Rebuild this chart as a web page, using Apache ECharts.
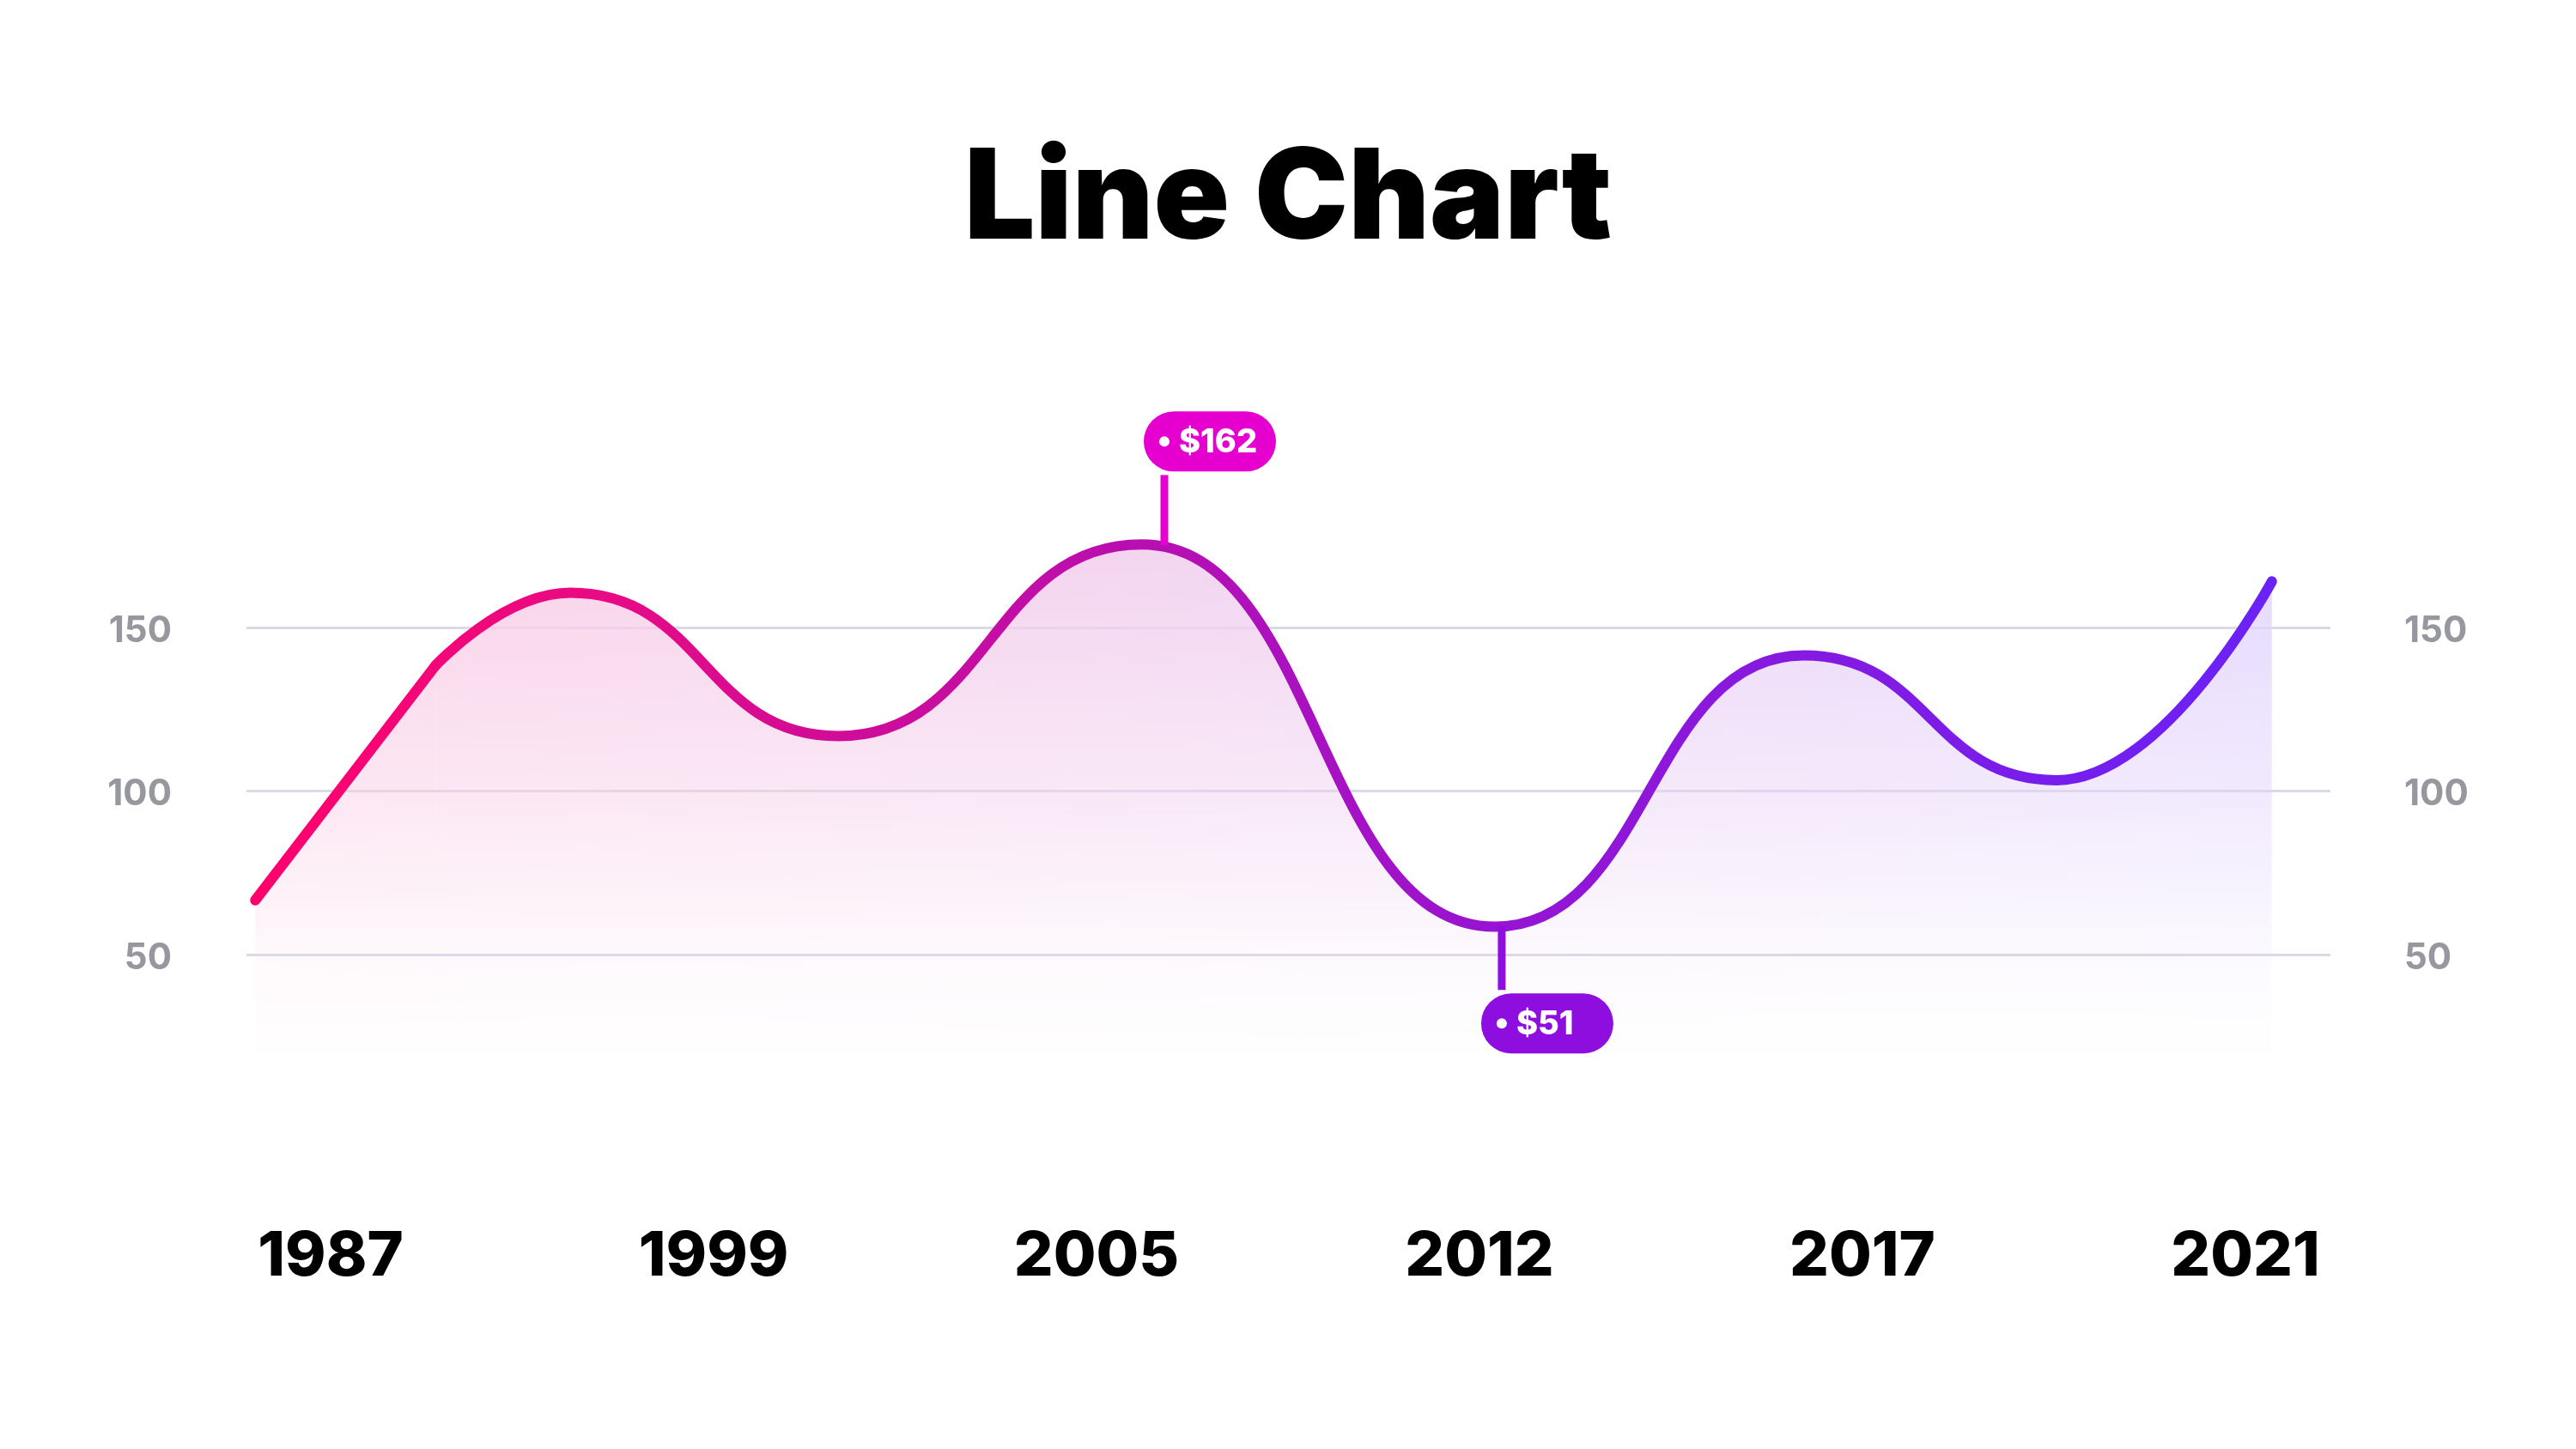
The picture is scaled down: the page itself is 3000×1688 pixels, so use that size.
<!DOCTYPE html>
<html>
<head>
<meta charset="utf-8">
<script src="https://cdn.jsdelivr.net/npm/echarts@6/dist/echarts.min.js"></script>
<style>
html,body{margin:0;padding:0;background:#fff;}
#chart{width:3000px;height:1688px;}
</style>
</head>
<body>
<div id="chart"></div>
<script>
// ---- data ----
const titleText = 'Line Chart';
const years = ['1987', '1999', '2005', '2012', '2017', '2021'];
const yearPos = [0, 1, 2, 3, 4, 5];
// straight opening run (start -> first bend)
const leadX = [-0.197, 0.274];
const leadY = [66.6, 138.4];
// smooth run: first bend, then peaks / troughs, then the end point
const curveX = [0.274, 0.626, 1.325, 2.118, 3.040, 3.846, 4.507, 5.069];
const curveY = [138.4, 160.6, 116.8, 175.4, 58.5, 141.5, 103.3, 164.1];
const yTicks = [50, 100, 150];
const calloutText = ['$162', '$51'];
const calloutX = [2.177, 3.058];
const calloutY = [175.1, 58.6];
const calloutDir = ['up', 'down'];

// ---- styling ----
const FONT = 'Inter, "Open Sans", sans-serif';
const calloutColors = ['#e500d0', '#8e0ee0'];

// area fill pattern: horizontal hue shift + vertical fade
const pat = document.createElement('canvas');
pat.width = 3000; pat.height = 1688;
const g = pat.getContext('2d');
const hg = g.createLinearGradient(290, 0, 2650, 0);
hg.addColorStop(0, 'rgb(251,205,228)');
hg.addColorStop(0.45, 'rgb(242,208,238)');
hg.addColorStop(1, 'rgb(226,212,253)');
g.fillStyle = hg; g.fillRect(0, 0, 3000, 1688);
g.globalCompositeOperation = 'destination-in';
const vg = g.createLinearGradient(0, 640, 0, 1250);
vg.addColorStop(0, 'rgba(0,0,0,0.9)');
vg.addColorStop(0.45, 'rgba(0,0,0,0.5)');
vg.addColorStop(0.8, 'rgba(0,0,0,0.1)');
vg.addColorStop(1, 'rgba(0,0,0,0)');
g.fillStyle = vg; g.fillRect(0, 0, 3000, 1688);

const lineGradient = () => new echarts.graphic.LinearGradient(296, 0, 2646, 0, [
  {offset: 0, color: '#ff006c'},
  {offset: 0.16, color: '#ea0a82'},
  {offset: 0.29, color: '#d00c98'},
  {offset: 0.44, color: '#b80fb0'},
  {offset: 0.62, color: '#9614d3'},
  {offset: 1, color: '#6a22f6'}
], true);

const chart = echarts.init(document.getElementById('chart'), null, {renderer: 'canvas'});

const leadData = leadX.map((x, i) => [x, leadY[i]]);
const lineData = curveX.map((x, i) => [x, curveY[i]]);
const calloutData = calloutX.map((x, i) => [x, calloutY[i], i]);

const yLabelStyle = {
  formatter: v => '{t|' + v + '}',
  rich: {
    t: {color: '#96979f', fontSize: 42, lineHeight: 42, fontWeight: 700, fontFamily: FONT,
        padding: [8, 0, 0, 0]}
  }
};

const lineCommon = {
  type: 'line',
  clip: false,
  showSymbol: false,
  symbol: 'none',
  z: 2,
  lineStyle: {width: 12, cap: 'round', join: 'round', color: lineGradient()},
  areaStyle: {origin: 20, color: {image: pat, repeat: 'no-repeat'}, opacity: 1}
};

chart.setOption({
  backgroundColor: '#ffffff',
  animation: false,
  title: {
    text: titleText,
    left: 'center',
    top: 156,
    textStyle: {fontSize: 146, lineHeight: 146, fontWeight: 900, fontFamily: FONT, color: '#000'}
  },
  grid: {left: 287, right: 286, top: 731, bottom: 576},
  xAxis: {
    type: 'value',
    min: -0.22,
    max: 5.222,
    axisLine: {show: false},
    axisTick: {show: false},
    splitLine: {show: false},
    axisLabel: {
      customValues: yearPos,
      formatter: v => years[Math.round(v)],
      margin: 316,
      fontSize: 72, lineHeight: 72, fontWeight: 800, fontFamily: FONT, color: '#000'
    }
  },
  yAxis: [{
    type: 'value', min: yTicks[0], max: yTicks[yTicks.length - 1], interval: 50,
    axisLine: {show: false}, axisTick: {show: false},
    splitLine: {show: true, lineStyle: {color: '#d9d9e8', width: 3}},
    axisLabel: Object.assign({margin: 87, align: 'right'}, yLabelStyle)
  }, {
    type: 'value', min: yTicks[0], max: yTicks[yTicks.length - 1], interval: 50, position: 'right',
    axisLine: {show: false}, axisTick: {show: false},
    splitLine: {show: false},
    axisLabel: Object.assign({margin: 86, align: 'left'}, yLabelStyle)
  }],
  series: [
    Object.assign({}, lineCommon, {data: leadData, smooth: false}),
    Object.assign({}, lineCommon, {data: lineData, smooth: 0.5, smoothMonotone: 'x'}),
    {
      type: 'custom',
      data: calloutData,
      clip: false,
      z: 5,
      renderItem: function (params, api) {
        const idx = api.value(2);
        const p = api.coord([api.value(0), api.value(1)]);
        const col = calloutColors[idx];
        const up = calloutDir[idx] === 'up';
        const h = 70, w = 154, stemLen = up ? 86 : 78;
        const sx = p[0];
        const pillTop = up ? p[1] - stemLen - h : p[1] + stemLen;
        const stemY1 = up ? p[1] - stemLen : p[1] + stemLen;
        const cy = pillTop + h / 2;
        return {
          type: 'group',
          children: [
            {type: 'line', shape: {x1: sx, y1: p[1], x2: sx, y2: up ? stemY1 + 4 : stemY1 - 4},
              style: {stroke: col, lineWidth: 9}},
            {type: 'rect', shape: {x: sx - 24, y: pillTop, width: w, height: h, r: h / 2},
              style: {fill: col}},
            {type: 'circle', shape: {cx: sx, cy: cy, r: 6}, style: {fill: '#fff'}},
            {type: 'text', style: {
              text: calloutText[idx], x: sx + 17, y: cy + 1,
              fill: '#fff', font: '800 38px ' + FONT,
              align: 'left', verticalAlign: 'middle'
            }}
          ]
        };
      }
    }
  ]
});
</script>
</body>
</html>
